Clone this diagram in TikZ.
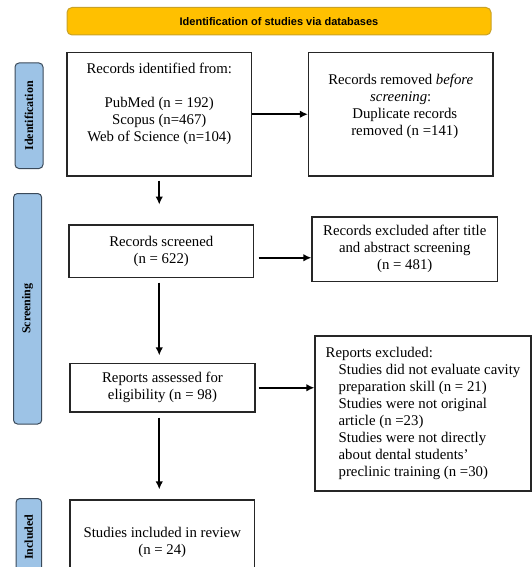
\documentclass[tikz,border=0pt]{standalone}
\usepackage{fontspec}
\setmainfont{Liberation Serif}
\newfontfamily\bannerfont{Liberation Sans}
\usetikzlibrary{shapes,arrows.meta}

\definecolor{bannerfill}{HTML}{FFC000}
\definecolor{bannerline}{HTML}{C9A227}
\definecolor{tabfill}{HTML}{9DC3E6}
\definecolor{tabline}{HTML}{3B4A5A}

\tikzset{
	box/.style={draw=black!85, line width=1.2pt, align=center, inner sep=2pt,
		font=\fontsize{14.8}{17}\selectfont},
	sidetab/.style={draw=tabline, fill=tabfill, line width=1pt, rounded corners=4pt,
		rotate=90, inner sep=0pt, font=\fontsize{12}{14}\selectfont\bfseries},
	banner/.style={draw=bannerline, fill=bannerfill, line width=1pt, rounded corners=5pt,
		font=\bannerfont\bfseries\fontsize{11}{13}\selectfont},
	arr/.style={-{Latex[length=8pt,width=7.5pt]}, line width=1.8pt},
}

\begin{document}
\begin{tikzpicture} [x=1pt, y=-1pt]

		\useasboundingbox (0,0) rectangle (532,567);
		\clip (0,0) rectangle (532,567);

		\node[banner, minimum width=424pt, minimum height=27.5pt] (banner) at (279,21.25)%
		{Identification of studies via databases};

		% side tabs
		\node[sidetab, minimum width=105.5pt, minimum height=28pt] (idtab) at (29,115.75)%
		{Identification};

		\node[sidetab, minimum width=230.5pt, minimum height=28.2pt] (sctab) at (27.6,308.75)%
		{Screening};

		\node[sidetab, minimum width=77pt, minimum height=25.7pt] (intab) at (28.85,537)%
		{Included};

		% boxes
		\node[box, minimum width=184.5pt, minimum height=123.5pt] (recid) at (159.25,114.25)%
		{Records identified from:\\[17pt] PubMed (n = 192)\\ Scopus (n=467)\\ Web of Science (n=104)\\[6pt]};

		\node[box, minimum width=184.5pt, minimum height=123.5pt] (recrm) at (400.75,114.25)%
		{Records removed \textit{before}\\ \textit{screening}:\\ \hspace*{8pt}Duplicate records\\ \hspace*{8pt}removed (n =141)\\[2pt]};

		\node[box, minimum width=184.5pt, minimum height=52.5pt] (screened) at (161.25,251.25)%
		{Records screened\\ (n = 622)};

		\node[box, minimum width=185.5pt, minimum height=64.5pt] (exctitle) at (404.75,249.25)%
		{Records excluded after title\\ and abstract screening\\ (n = 481)};

		\node[box, minimum width=185pt, minimum height=48.5pt] (assessed) at (162.5,387.75)%
		{Reports assessed for\\ eligibility (n = 98)};

		\node[box, align=left, minimum width=216pt, minimum height=155pt] (excrep) at (423,413.5)%
		{Reports excluded:\\
		\hspace*{13pt}Studies did not evaluate cavity\\
		\hspace*{13pt}preparation skill (n = 21)\\
		\hspace*{13pt}Studies were not original\\
		\hspace*{13pt}article (n =23)\\
		\hspace*{13pt}Studies were not directly\\
		\hspace*{13pt}about dental students'\\
		\hspace*{13pt}preclinic training (n =30)};

		\node[box, minimum width=184.5pt, minimum height=84pt] (included) at (162.25,542)%
		{Studies included in review\\ (n = 24)};

		% arrows
		\draw [arr] (recid.east) -- (recrm.west);

		\draw [arr] ([yshift=-4pt]recid.south) -- ([yshift=-28pt]recid.south);

		\coordinate (scr) at ([xshift=4.5pt,yshift=-6.5pt]screened.east);
		\draw [arr] (scr) -- (scr -| exctitle.west);

		\draw [arr] ([yshift=-4.5pt]screened.south -| recid.south) -- ([yshift=7.5pt]assessed.north -| recid.south);

		\coordinate (ass) at ([xshift=3pt]assessed.east);
		\draw [arr] (ass) -- (ass -| excrep.west);

		\draw [arr] ([yshift=-5pt]assessed.south -| recid.south) -- ([yshift=10pt]included.north -| recid.south);
	\end{tikzpicture}
\end{document}
